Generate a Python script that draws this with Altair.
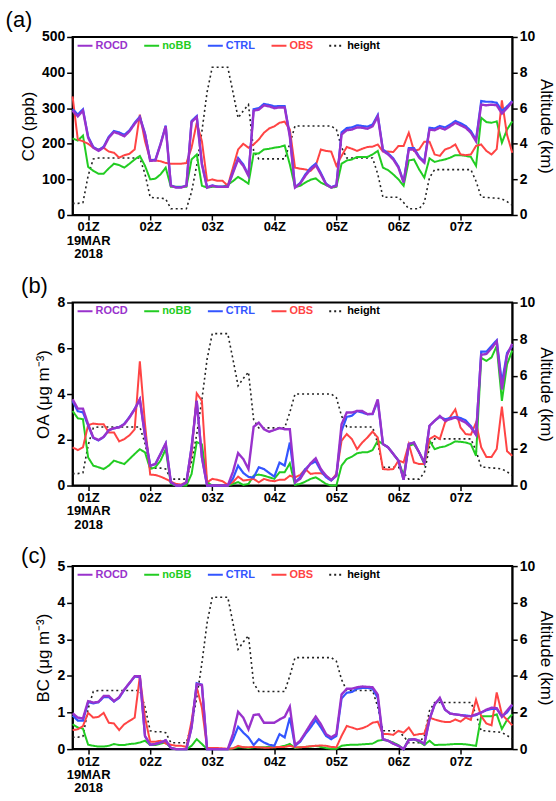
import altair as alt
import pandas as pd

# ---------------- data (5-minute samples from 00:45Z to 07:50Z, 19 MAR 2018) -------------
START_H = 0.75
STEP_H = 5 / 60
N = 86
TIME_H = [START_H + k * STEP_H for k in range(N)]
TICK_HOURS = [1, 2, 3, 4, 5, 6, 7]

SERIES = ["ROCD", "noBB", "CTRL", "OBS", "height"]
COLORS = ["#9932CC", "#22CC22", "#3355FF", "#FF4444", "#222222"]
DASHES = [[1, 0], [1, 0], [1, 0], [1, 0], [2, 3]]

HEIGHT = [0.65, 0.65, 0.7, 2.2, 3.15, 3.2, 3.2, 3.2, 3.2, 3.2,
          3.2, 3.2, 3.2, 3.2, 2.3, 1.0, 0.95, 0.95, 0.9, 0.35,
          0.35, 0.35, 0.35, 1.3, 2.8, 4.7, 6.9, 8.3, 8.3, 8.3,
          8.3, 6.9, 5.45, 5.85, 6.2, 3.6, 3.15, 3.15, 3.15, 3.15,
          3.15, 3.15, 4.0, 5.0, 5.0, 5.0, 5.0, 5.0, 5.0, 5.0,
          5.0, 4.8, 3.8, 3.2, 3.2, 3.2, 3.2, 3.2, 3.2, 2.3,
          1.0, 1.0, 1.0, 1.0, 0.7, 0.35, 0.35, 0.35, 0.7, 2.1,
          2.55, 2.55, 2.55, 2.55, 2.55, 2.55, 2.55, 2.55, 1.9, 1.0,
          1.0, 0.95, 0.95, 0.9, 0.75, 0.55]

CO_ROCD = [293, 277, 293, 217, 189, 180, 189, 217, 233, 228,
           221, 235, 256, 273, 226, 152, 153, 198, 249, 82,
           77, 77, 82, 261, 275, 142, 77, 82, 79, 79,
           79, 118, 156, 138, 110, 293, 296, 308, 305, 300,
           302, 302, 220, 77, 88, 110, 128, 140, 114, 86,
           77, 82, 226, 238, 240, 246, 245, 242, 249, 277,
           180, 170, 156, 133, 91, 184, 184, 161, 147, 240,
           238, 245, 240, 249, 259, 252, 245, 231, 207, 310,
           308, 310, 308, 285, 300, 318]
CO_CTRL = [297, 282, 297, 220, 191, 182, 192, 220, 236, 232,
           225, 238, 259, 276, 229, 154, 155, 200, 251, 83,
           78, 78, 83, 264, 278, 144, 78, 83, 80, 80,
           80, 121, 160, 142, 112, 297, 300, 312, 309, 305,
           306, 306, 224, 78, 90, 114, 132, 144, 118, 88,
           78, 84, 232, 244, 246, 252, 250, 248, 254, 281,
           184, 173, 159, 136, 93, 188, 188, 164, 150, 245,
           243, 250, 246, 254, 264, 258, 250, 236, 211, 320,
           318, 318, 315, 292, 305, 320]
CO_NOBB = [215, 209, 223, 135, 124, 116, 116, 131, 144, 140,
           133, 144, 156, 166, 138, 100, 102, 114, 133, 79,
           79, 79, 79, 156, 170, 82, 77, 79, 79, 79,
           85, 95, 107, 98, 88, 173, 173, 184, 186, 189,
           191, 195, 142, 79, 82, 91, 99, 103, 91, 84,
           77, 79, 144, 153, 156, 163, 163, 163, 170, 180,
           133, 126, 114, 100, 82, 153, 156, 128, 105, 159,
           149, 153, 156, 161, 168, 168, 166, 163, 138, 273,
           261, 259, 263, 203, 240, 263]
CO_OBS = [333, 212, 207, 200, 189, 184, 189, 178, 175, 161,
          168, 172, 184, 282, 207, 156, 153, 151, 146, 144,
          144, 144, 146, 189, 259, 207, 96, 100, 96, 96,
          82, 133, 184, 200, 189, 198, 212, 231, 243, 249,
          259, 262, 240, 133, 130, 128, 124, 138, 184, 180,
          178, 138, 166, 191, 186, 180, 186, 191, 192, 198,
          178, 178, 177, 194, 194, 231, 180, 184, 206, 206,
          170, 166, 184, 189, 198, 170, 168, 170, 194, 198,
          180, 170, 185, 322, 225, 175]

OA_ROCD = [3.77, 3.36, 3.36, 2.68, 2.1, 1.99, 2.13, 2.42, 2.51, 2.54,
           2.68, 2.97, 3.33, 3.77, 2.17, 0.87, 0.94, 1.38, 1.84, 0.14,
           0, 0, 0.14, 1.67, 3.7, 1.23, 0, 0, 0, 0,
           0, 0.6, 1.42, 1.16, 0.72, 2.57, 2.75, 2.46, 2.35, 2.43,
           2.51, 2.46, 2.46, 0.14, 0.29, 0.65, 0.97, 1.19, 0.72, 0.43,
           0.25, 0.43, 2.68, 3.19, 3.19, 3.26, 3.26, 3.12, 3.14, 3.77,
           1.81, 1.67, 1.38, 1.09, 0.25, 1.81, 1.88, 1.45, 1.01, 2.61,
           2.83, 3.04, 2.83, 2.9, 2.97, 2.86, 2.75, 2.54, 2.22, 5.72,
           5.75, 6.0, 6.3, 4.2, 5.7, 6.2]
OA_CTRL = [3.7, 3.25, 3.2, 2.62, 2.08, 1.97, 2.12, 2.42, 2.5, 2.55,
           2.7, 3.0, 3.35, 3.77, 2.17, 0.87, 0.94, 1.38, 1.84, 0.14,
           0, 0, 0.14, 1.67, 3.7, 1.23, 0, 0, 0, 0,
           0, 0.3, 0.87, 0.55, 0.38, 0.35, 0.8, 0.72, 0.55, 0.39,
           1.0, 0.87, 1.88, 0.14, 0.36, 0.72, 0.94, 1.06, 0.65, 0.36,
           0.22, 0.43, 2.39, 3.0, 3.05, 3.26, 3.19, 3.12, 3.12, 3.7,
           1.81, 1.67, 1.38, 1.09, 0.25, 1.81, 1.88, 1.45, 1.01, 2.61,
           2.83, 3.0, 2.9, 2.95, 3.0, 2.95, 2.85, 2.6, 2.22, 5.85,
           5.85, 6.1, 6.35, 4.5, 5.8, 6.1]
OA_NOBB = [3.26, 2.94, 2.9, 1.23, 0.87, 0.8, 0.72, 0.87, 1.09, 1.01,
           0.94, 1.16, 1.38, 1.59, 1.45, 0.72, 0.8, 1.09, 1.59, 0.07,
           0, 0, 0, 0.5, 1.9, 1.8, 0.15, 0, 0, 0,
           0, 0.07, 0.15, 0.03, 0.07, 0.43, 0.48, 0.43, 0.36, 0.29,
           0.58, 0.58, 0.97, 0.03, 0.07, 0.17, 0.29, 0.36, 0.22, 0.07,
           0, 0, 0.87, 1.16, 1.26, 1.41, 1.45, 1.45, 1.55, 1.96,
           1.81, 1.67, 1.38, 1.09, 0.43, 1.74, 1.81, 1.45, 0.94, 1.96,
           1.59, 1.67, 1.71, 1.81, 1.93, 1.91, 1.88, 1.81, 1.3, 5.58,
           5.45, 5.6, 6.1, 3.7, 5.3, 5.9]
OA_OBS = [1.67, 1.55, 1.67, 2.64, 2.71, 2.68, 2.68, 2.32, 2.32, 1.93,
          2.03, 2.2, 2.46, 5.43, 2.68, 0.48, 0.46, 0.39, 0.29, 0.17,
          0.07, 0.04, 0.15, 1.38, 4.03, 3.7, 0.14, 0.29, 0.25, 0.19,
          0.03, 0.15, 0.39, 0.22, 0.25, 0.29, 0.14, 0.29, 0.22, 0.19,
          0.25, 0.25, 0.43, 0.36, 0.46, 0.72, 0.51, 0.54, 0.54, 0.43,
          0.22, 0.51, 1.96, 2.25, 2.03, 1.59, 1.88, 2.1, 2.36, 2.1,
          0.72, 0.7, 0.72, 1.09, 1.01, 1.81, 1.01, 0.94, 0.94, 2.03,
          2.17, 2.03, 2.75, 3.0, 3.33, 2.54, 2.25, 2.22, 2.75, 1.67,
          1.25, 1.25, 1.6, 3.45, 1.5, 1.3]

BC_ROCD = [0.98, 0.86, 0.84, 1.31, 1.27, 1.29, 1.45, 1.45, 1.31, 1.42,
           1.63, 1.81, 1.99, 1.99, 0.36, 0.12, 0.14, 0.18, 0.24, 0.03,
           0, 0, 0, 0.59, 1.78, 1.75, 0, 0, 0, 0,
           0, 0.41, 1.02, 0.86, 0.54, 0.93, 0.95, 0.72, 0.72, 0.72,
           0.81, 0.88, 1.16, 0.11, 0.23, 0.45, 0.68, 0.89, 0.68, 0.41,
           0.32, 0.41, 1.49, 1.65, 1.65, 1.69, 1.71, 1.7, 1.69, 1.49,
           0.27, 0.23, 0.15, 0.09, 0, 0.25, 0.27, 0.23, 0.14, 0.81,
           1.22, 1.4, 1.08, 0.97, 0.95, 0.93, 0.9, 0.9, 0.95, 1.0,
           1.08, 1.13, 1.12, 0.88, 1.05, 1.22]
BC_CTRL = [0.92, 0.78, 0.78, 1.28, 1.25, 1.28, 1.42, 1.42, 1.3, 1.4,
           1.62, 1.8, 1.98, 1.97, 0.35, 0.12, 0.14, 0.18, 0.24, 0.03,
           0, 0, 0, 0.59, 1.8, 1.76, 0, 0, 0, 0,
           0, 0.25, 0.61, 0.45, 0.32, 0.11, 0.27, 0.18, 0.12, 0.09,
           0.41, 0.32, 0.86, 0.09, 0.2, 0.41, 0.59, 0.79, 0.59, 0.36,
           0.27, 0.36, 1.38, 1.54, 1.56, 1.65, 1.67, 1.67, 1.65, 1.4,
           0.27, 0.23, 0.15, 0.09, 0, 0.25, 0.27, 0.23, 0.14, 0.81,
           1.22, 1.38, 1.08, 0.97, 0.95, 0.93, 0.92, 0.9, 0.93, 1.0,
           1.06, 1.1, 1.1, 0.9, 1.0, 1.2]
BC_NOBB = [0.68, 0.59, 0.56, 0.12, 0.09, 0.07, 0.07, 0.09, 0.14, 0.11,
           0.11, 0.14, 0.15, 0.18, 0.23, 0.11, 0.11, 0.15, 0.18, 0.03,
           0, 0, 0, 0.09, 0.27, 0.14, 0, 0, 0, 0,
           0, 0.02, 0.05, 0.05, 0.03, 0.05, 0.05, 0.05, 0.06, 0.05,
           0.06, 0.09, 0.14, 0.03, 0.05, 0.06, 0.07, 0.09, 0.06, 0.03,
           0.01, 0.01, 0.09, 0.11, 0.12, 0.12, 0.13, 0.14, 0.15, 0.23,
           0.25, 0.23, 0.18, 0.11, 0, 0.27, 0.27, 0.2, 0.11, 0.23,
           0.11, 0.12, 0.12, 0.13, 0.14, 0.14, 0.13, 0.11, 0.09, 0.9,
           0.9, 0.9, 0.95, 0.55, 0.8, 0.95]
BC_OBS = [0.52, 0.54, 0.63, 0.99, 0.86, 0.88, 0.99, 0.72, 0.7, 0.52,
          0.68, 0.77, 0.86, 1.99, 0.86, 0.2, 0.2, 0.23, 0.15, 0.12,
          0.09, 0.09, 0.06, 0.77, 1.69, 1.13, 0.03, 0.03, 0.03, 0.02,
          0.01, 0.02, 0.09, 0.05, 0.05, 0.06, 0.05, 0.04, 0.04, 0.05,
          0.06, 0.06, 0.09, 0.05, 0.05, 0.06, 0.08, 0.09, 0.1, 0.09,
          0.06, 0.05, 0.36, 0.63, 0.59, 0.54, 0.57, 0.63, 0.72, 0.75,
          0.41, 0.41, 0.39, 0.5, 0.45, 0.59, 0.38, 0.41, 0.42, 0.86,
          0.81, 0.77, 0.74, 0.74, 0.81, 0.75, 0.86, 0.8, 1.35, 0.9,
          0.7, 0.65, 1.55, 0.95, 0.8, 0.65]

# ---------------- styling -------------
FONT = "Liberation Sans"
XLABEL = "datum.value == 1 ? ['01Z', '19MAR', '2018'] : '0' + datum.value + 'Z'"
LEGEND_COLOR = ("datum.value === 'ROCD' ? '#9932CC' : datum.value === 'noBB' ? '#22CC22' : "
                "datum.value === 'CTRL' ? '#3355FF' : datum.value === 'OBS' ? '#FF4444' : '#000000'")


def panel(tag, ytitle, ymax, ystep, vals, w, h, title_offset):
    rows = []
    for name in ["ROCD", "noBB", "CTRL", "OBS"]:
        for t, v in zip(TIME_H, vals[name]):
            rows.append({"t": t, "v": v, "s": name})
    df = pd.DataFrame(rows)
    hdf = pd.DataFrame({"t": TIME_H, "v": HEIGHT, "s": ["height"] * N})

    x = alt.X("t:Q",
              scale=alt.Scale(domain=[TIME_H[0], TIME_H[-1]], nice=False, zero=False),
              axis=alt.Axis(values=TICK_HOURS, labelExpr=XLABEL, title=None,
                            labelFontSize=13, labelLineHeight=13.5, labelFlush=False,
                            labelOverlap=False, labelPadding=1, tickSize=5))
    leg = alt.Legend(title=None, orient="none", legendX=4, legendY=0,
                     direction="horizontal", symbolType="stroke", symbolSize=225,
                     symbolStrokeWidth=2, labelFont=FONT, labelFontSize=11,
                     labelFontWeight="bold", labelColor={"expr": LEGEND_COLOR},
                     labelOffset=2, columnPadding=12, padding=0)
    color = alt.Color("s:N", scale=alt.Scale(domain=SERIES, range=COLORS), legend=leg)
    dash = alt.StrokeDash("s:N", scale=alt.Scale(domain=SERIES, range=DASHES), legend=leg)
    nticks = int(round(ymax / ystep))
    yl = alt.Y("v:Q", scale=alt.Scale(domain=[0, ymax], nice=False),
               axis=alt.Axis(values=[i * ystep for i in range(nticks + 1)], title=ytitle,
                             titlePadding=4, labelFlush=False, labelOverlap=False))
    layers = []
    for name, sw in [("noBB", 2.0), ("OBS", 2.0), ("CTRL", 2.2), ("ROCD", 2.4)]:
        layers.append(
            alt.Chart(df).transform_filter(alt.datum.s == name)
            .mark_line(strokeWidth=sw)
            .encode(x=x, y=yl, color=color, strokeDash=dash)
        )
    lines = alt.layer(*layers)
    hl = alt.Chart(hdf).mark_line(strokeWidth=1.6).encode(
        x=x,
        y=alt.Y("v:Q", scale=alt.Scale(domain=[0, 10], nice=False),
                axis=alt.Axis(orient="right", values=[0, 2, 4, 6, 8, 10],
                              title="Altitude (km)", tickSize=5, labelPadding=2,
                              titlePadding=2, labelFlush=False, labelOverlap=False)),
        color=color, strokeDash=dash)
    return (alt.layer(hl, lines)
            .resolve_scale(y="independent")
            .properties(width=w, height=h,
                        title=alt.Title(tag, anchor="start", fontSize=22, fontWeight="normal",
                                        font=FONT, offset=title_offset, dx=-14)))


pa = panel("(a)", "CO (ppb)", 500, 100,
           {"ROCD": CO_ROCD, "noBB": CO_NOBB, "CTRL": CO_CTRL, "OBS": CO_OBS}, 442, 179, -2)
pb = panel("(b)", "OA (μg m⁻³)", 8, 2,
           {"ROCD": OA_ROCD, "noBB": OA_NOBB, "CTRL": OA_CTRL, "OBS": OA_OBS}, 442, 184, -2)
pc = panel("(c)", "BC (μg m⁻³)", 5, 1,
           {"ROCD": BC_ROCD, "noBB": BC_NOBB, "CTRL": BC_CTRL, "OBS": BC_OBS}, 442, 184, -9)

chart = (
    alt.vconcat(pa, pb, pc, spacing=12)
    .resolve_scale(color="independent", strokeDash="independent")
    .properties(padding={"left": 4, "top": 6, "right": 0, "bottom": 0}, background="white")
    .configure_view(stroke="black", strokeWidth=2)
    .configure_axis(domainColor="black", domainWidth=1.5, tickColor="black", tickWidth=1.5,
                    tickSize=6, labelFont=FONT, labelFontWeight="bold", labelFontSize=14,
                    labelColor="black", titleFont=FONT, titleFontWeight="normal",
                    titleFontSize=17, titleColor="black", grid=False)
)

chart.save("out.html", embed_options={"renderer": "svg", "actions": False})
